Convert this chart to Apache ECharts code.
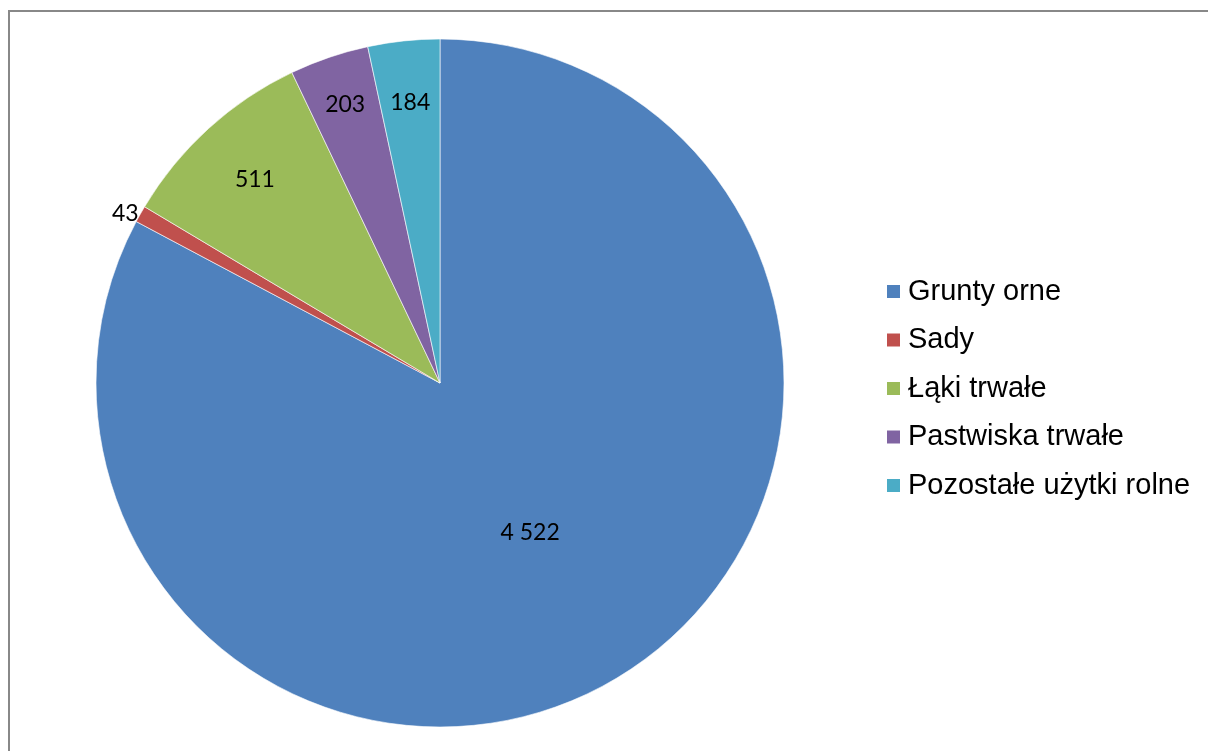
<!DOCTYPE html>
<html><head><meta charset="utf-8">
<script src="https://cdn.jsdelivr.net/npm/echarts@6/dist/echarts.min.js"></script>
<style>html,body{margin:0;padding:0;background:#fff}#c{width:1208px;height:751px}</style>
</head><body><div id="c"></div>
<script>
const categories = ['Grunty orne', 'Sady', 'Łąki trwałe', 'Pastwiska trwałe', 'Pozostałe użytki rolne'];
const values = [4522, 43, 511, 203, 184];
const colors = ['#4F81BD', '#C0504D', '#9BBB59', '#8064A2', '#4BACC6'];

const CX = 440, CY = 383, R = 344;
const labelPush = [1, 1, 1.57, 1.68, 1.61];
const fmt = v => String(v).replace(/\B(?=(\d{3})+(?!\d))/g, ' ');

const chart = echarts.init(document.getElementById('c'));
chart.setOption({
  animation: false,
  graphic: [{
    type: 'rect', shape: {x: 9, y: 11, width: 1400, height: 900},
    style: {fill: 'none', stroke: '#888', lineWidth: 2}, silent: true
  }],
  legend: {
    orient: 'vertical', left: 880, top: 272,
    itemWidth: 15, itemHeight: 15, itemGap: 19.5,
    icon: 'rect',
    textStyle: {fontFamily: 'Liberation Sans, Arial', fontSize: 29, color: '#000', lineHeight: 29, padding: [0, 0, 0, 2]},
    data: categories
  },
  series: [{
    type: 'pie',
    center: [CX, CY], radius: R,
    startAngle: 90, clockwise: true,
    itemStyle: {borderColor: '#fff', borderWidth: 0.6},
    label: {
      show: true, position: 'inside', formatter: p => fmt(p.value),
      fontFamily: 'Lato, Carlito, sans-serif', fontSize: 23, color: '#000'
    },
    labelLine: {show: false},
    labelLayout: function (p) {
      const k = labelPush[p.dataIndex];
      if (p.dataIndex === 1 || k === 1) return {};
      const lx = p.labelRect.x + p.labelRect.width / 2;
      const ly = p.labelRect.y + p.labelRect.height / 2;
      return {x: CX + (lx - CX) * k, y: CY + (ly - CY) * k, align: 'center', verticalAlign: 'middle'};
    },
    data: categories.map((n, i) => {
      const d = {name: n, value: values[i], itemStyle: {color: colors[i]}};
      if (i === 1) {
        d.label = {position: 'outside', distanceToLabelLine: 0};
        d.labelLine = {show: false, length: 2, length2: 0};
      }
      return d;
    })
  }]
});
</script></body></html>
